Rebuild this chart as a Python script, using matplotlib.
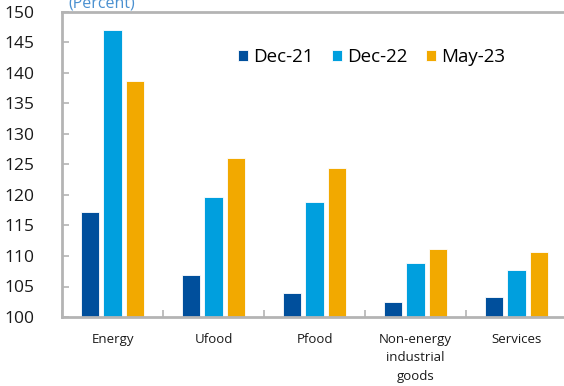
import matplotlib
matplotlib.use("Agg")
import matplotlib.pyplot as plt
import numpy as np

plt.rcParams['font.family'] = ['Open Sans', 'DejaVu Sans']

categories = ["Energy", "Ufood", "Pfood", "Non-energy\nindustrial\ngoods", "Services"]
series_names = ["Dec-21", "Dec-22", "May-23"]
dec21 = [117.2, 106.9, 104.0, 102.4, 103.2]
dec22 = [147.0, 119.7, 118.8, 108.9, 107.7]
may23 = [138.7, 126.0, 124.5, 111.2, 110.7]
colors = ["#004F9C", "#009FDE", "#F2A900"]
yticks = [100, 105, 110, 115, 120, 125, 130, 135, 140, 145, 150]

W, H = 564, 386
fig = plt.figure(figsize=(W / 100, H / 100), dpi=100)
ax = fig.add_axes([62 / W, 1 - 317 / H, 505 / W, 305 / H])

x = np.arange(len(categories))
bw = 0.18
step = 0.225
for i, (vals, name, c) in enumerate(zip([dec21, dec22, may23], series_names, colors)):
    ax.bar(x + (i - 1) * step, np.array(vals) - 100, bottom=100, width=bw,
           color=c, edgecolor="white", linewidth=0.6, label=name, zorder=2)

ax.set_xlim(-0.5, len(categories) - 0.5)
ax.set_ylim(100, 150)
ax.set_yticks(yticks)
ax.set_yticklabels([str(v) for v in yticks], fontsize=12.5)
ax.tick_params(axis='y', direction='in', length=5, width=1.2, color="#B4B4B4",
               pad=20, labelcolor="#1A1A1A")

ax.set_xticks(np.arange(len(categories) + 1) - 0.5)
ax.set_xticklabels([])
ax.tick_params(axis='x', direction='in', length=5, width=1.2, color="#B4B4B4")
for xi, cat in zip(x, categories):
    ax.text(xi, 97.4, cat, ha='center', va='top', fontsize=9.5, color="#1A1A1A",
            linespacing=1.55)

for sp in ax.spines.values():
    sp.set_color("#B4B4B4")
    sp.set_linewidth(2)

ax.text(0.012, 1.0, "(Percent)", transform=ax.transAxes, ha='left', va='bottom',
        fontsize=11.5, color="#4A90D0")

leg = ax.legend(loc='center left', bbox_to_anchor=(0.348, 0.852), ncol=3, frameon=False,
                fontsize=13.5, handlelength=0.55, handleheight=0.55, handletextpad=0.25,
                columnspacing=1.0, borderaxespad=0, borderpad=0)

fig.savefig("out.png", dpi=100)
